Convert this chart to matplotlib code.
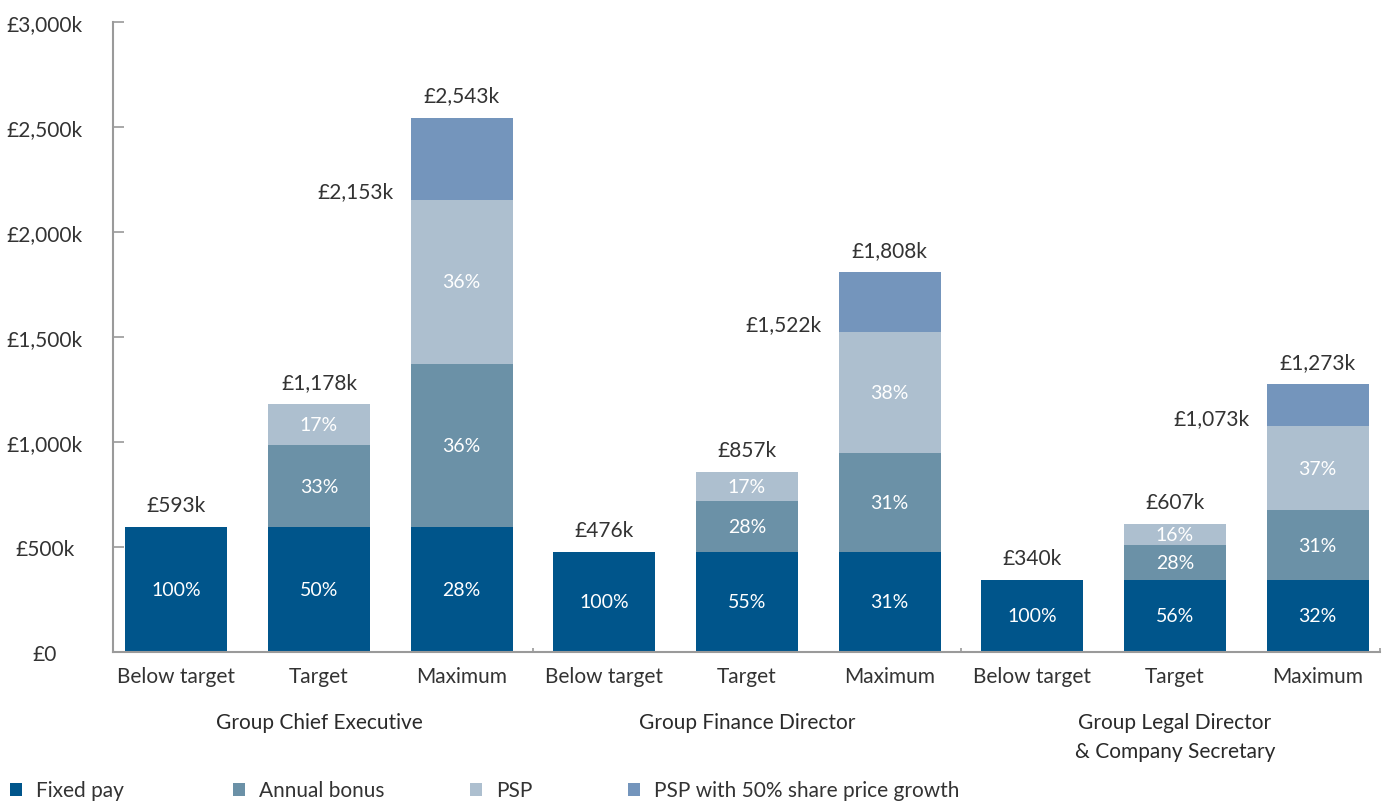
import matplotlib
matplotlib.use("Agg")
import matplotlib.pyplot as plt
from matplotlib.patches import Rectangle
from matplotlib.ticker import FuncFormatter
import numpy as np

plt.rcParams["font.family"] = ["Lato", "DejaVu Sans"]

# Remuneration scenarios, £k
roles = ["Group Chief Executive", "Group Finance Director",
         "Group Legal Director\n& Company Secretary"]
scenarios = ["Below target", "Target", "Maximum"]

fixed_pay = [593, 593, 593, 476, 476, 476, 340, 340, 340]
annual_bonus = [0, 389, 778, 0, 240, 472, 0, 170, 333]
psp = [0, 196, 782, 0, 141, 574, 0, 97, 400]
psp_growth = [0, 0, 390, 0, 0, 286, 0, 0, 200]

pct_fixed = [100, 50, 28, 100, 55, 31, 100, 56, 32]
pct_bonus = [None, 33, 36, None, 28, 31, None, 28, 31]
pct_psp = [None, 17, 36, None, 17, 38, None, 16, 37]

series_names = ["Fixed pay", "Annual bonus", "PSP", "PSP with 50% share price growth"]
colors = ["#00558b", "#6b91a7", "#adbfcf", "#7495bc"]
text_col = "#333333"
axis_col = "#9a9a9a"

fig = plt.figure(figsize=(13.91, 8.03), dpi=100)
ax = fig.add_axes([113 / 1391, 1 - 652.7 / 803, (1380 - 113) / 1391, (652.7 - 22.7) / 803])

x = np.arange(len(fixed_pay))
width = 0.715
bottom = np.zeros(len(x))
layers = [fixed_pay, annual_bonus, psp, psp_growth]
pcts = [pct_fixed, pct_bonus, pct_psp, None]

for vals, col, pct in zip(layers, colors, pcts):
    vals = np.array(vals, dtype=float)
    ax.bar(x, vals, width, bottom=bottom, color=col, linewidth=0)
    if pct is not None:
        for i in x:
            if pct[i] is not None:
                ax.text(i, bottom[i] + vals[i] / 2, f"{pct[i]}%", ha="center", va="center",
                        color="white", fontsize=14)
    bottom += vals

base_total = np.array(fixed_pay) + np.array(annual_bonus) + np.array(psp)
grand_total = base_total + np.array(psp_growth)

for i in x:
    ax.annotate(f"£{grand_total[i]:,.0f}k", (i, grand_total[i]), xytext=(0, 16),
                textcoords="offset points", ha="center", va="center",
                color=text_col, fontsize=15)
    if psp_growth[i] > 0:
        ax.annotate(f"£{base_total[i]:,.0f}k", (i - width / 2, base_total[i]),
                    xytext=(-12, 6), textcoords="offset points", ha="right", va="center",
                    color=text_col, fontsize=15)

ax.set_ylim(0, 3000)
ax.set_xlim(-0.444, 8.437)
ax.set_yticks(np.arange(0, 3001, 500))
ax.yaxis.set_major_formatter(FuncFormatter(lambda v, p: "£0" if v == 0 else f"£{v:,.0f}k"))
ax.tick_params(axis="y", direction="in", length=8, width=1.2, color=axis_col,
               pad=49, labelsize=15, labelcolor=text_col)
for lab in ax.get_yticklabels():
    lab.set_horizontalalignment("center")

ax.set_xticks(x)
ax.set_xticklabels(scenarios * 3)
ax.tick_params(axis="x", which="major", length=0, pad=10, labelsize=15, labelcolor=text_col)
ax.set_xticks([2.5, 5.5, 8.437], minor=True)
ax.tick_params(axis="x", which="minor", direction="in", length=3, width=1.2, color=axis_col)

for side in ["top", "right"]:
    ax.spines[side].set_visible(False)
for side in ["left", "bottom"]:
    ax.spines[side].set_color(axis_col)
    ax.spines[side].set_linewidth(1.5)

# role names under each group of three bars
for g, role in enumerate(roles):
    ax.text(g * 3 + 1, -0.096, role, transform=ax.get_xaxis_transform(),
            ha="center", va="top", color="#2a2a2a", fontsize=15,
            linespacing=1.55)

# legend row along the bottom
legend_x = [10, 233, 470, 628]
for lx, name, col in zip(legend_x, series_names, colors):
    fig.patches.append(Rectangle((lx / 1391, 1 - 797 / 803), 12 / 1391, 13 / 803,
                                 transform=fig.transFigure, color=col, linewidth=0))
    fig.text((lx + 26) / 1391, 1 - 791 / 803, name, ha="left", va="center",
             color=text_col, fontsize=15)

fig.savefig("out.png", dpi=100)
